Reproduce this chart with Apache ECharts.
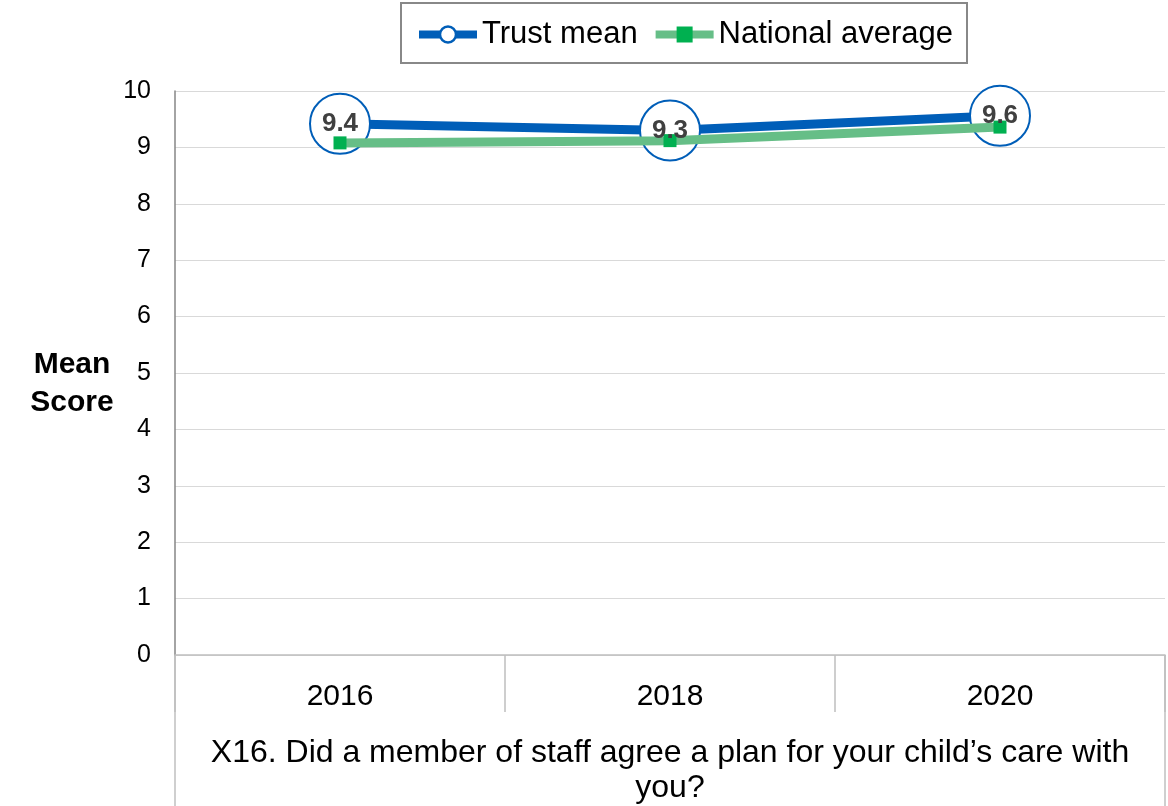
<!DOCTYPE html>
<html>
<head>
<meta charset="utf-8">
<script src="https://cdn.jsdelivr.net/npm/echarts@6/dist/echarts.min.js"></script>
<style>
    html, body { margin: 0; padding: 0; background: #fff; }
    #chart { width: 1168px; height: 806px; }
</style>
</head>
<body>
<div id="chart"></div>
<script>
// 数据
var years = ['2016', '2018', '2020'];
var trustMean = [9.42, 9.3, 9.56];
var nationalAvg = [9.08, 9.12, 9.36];
var yTicks = [0, 10, 1]; // min, max, interval
var questionText = 'X16. Did a member of staff agree a plan for your child\u2019s care with\nyou?';

(function () {
    // 1.初始化echarts实例对象
    var myChart = echarts.init(document.getElementById('chart'));

    var font = 'Arial, "Liberation Sans", sans-serif';
    var gridLeft = 175, gridRight = 3, gridBottom = 151;

    // 2.指定配置项与数据
    var option = {
        animation: false,
        textStyle: { fontFamily: font },
        legend: {
            left: 401,
            top: 3,
            data: [
                { name: 'Trust mean', itemStyle: { borderWidth: 2.5 } },
                'National average'
            ],
            itemWidth: 58,
            itemHeight: 20,
            itemGap: 14,
            padding: [16, 14, 13, 14],
            borderColor: '#888',
            borderWidth: 2,
            lineStyle: { width: 8 },
            textStyle: { fontSize: 31, color: '#000', fontFamily: font }
        },
        grid: {
            top: 91,
            left: gridLeft,
            right: gridRight,
            bottom: gridBottom,
            outerBoundsMode: 'none'
        },
        xAxis: {
            type: 'category',
            data: years,
            boundaryGap: true,
            axisLine: { lineStyle: { color: '#bfbfbf', width: 1.5 } },
            axisTick: {
                show: true,
                interval: 0,
                length: 57,
                lineStyle: { color: '#bfbfbf', width: 1.5 }
            },
            axisLabel: { fontSize: 30, color: '#000', margin: 27 },
            name: questionText,
            nameLocation: 'middle',
            nameGap: 81,
            nameTextStyle: { fontSize: 32, color: '#000', lineHeight: 35, align: 'center' }
        },
        yAxis: {
            type: 'value',
            min: yTicks[0],
            max: yTicks[1],
            interval: yTicks[2],
            axisLine: { show: true, lineStyle: { color: '#868686', width: 1.5 } },
            axisTick: { show: false },
            splitLine: { lineStyle: { color: '#d9d9d9', width: 1 } },
            axisLabel: { fontSize: 25, color: '#000', margin: 24 }
        },
        series: [{
            name: 'Trust mean',
            type: 'line',
            data: trustMean,
            z: 2,
            symbol: 'circle',
            symbolSize: 60,
            lineStyle: { color: '#005EB8', width: 9 },
            itemStyle: { color: '#fff', borderColor: '#005EB8', borderWidth: 2 }
        }, {
            name: 'National average',
            type: 'line',
            data: nationalAvg,
            z: 3,
            symbol: 'rect',
            symbolSize: 13,
            lineStyle: { color: '#66BE87', width: 9 },
            itemStyle: { color: '#00B050' }
        }, {
            // 只显示数据标签
            name: 'Trust mean label',
            type: 'line',
            data: trustMean,
            z: 4,
            silent: true,
            symbol: 'circle',
            symbolSize: 1,
            itemStyle: { color: 'rgba(0,0,0,0)' },
            lineStyle: { opacity: 0 },
            label: {
                show: true,
                position: 'inside',
                fontSize: 26,
                fontWeight: 'bold',
                color: '#404040',
                formatter: function (p) { return p.value.toFixed(1); }
            }
        }],
        graphic: [{
            // y轴标题
            type: 'text',
            x: 72,
            y: 384,
            style: {
                text: 'Mean\nScore',
                font: 'bold 30px ' + font,
                lineHeight: 38,
                fill: '#000',
                textAlign: 'center',
                textVerticalAlign: 'middle'
            }
        }, {
            // 类别区域左右边框
            type: 'line',
            shape: { x1: gridLeft, y1: 806 - gridBottom, x2: gridLeft, y2: 806 },
            style: { stroke: '#bfbfbf', lineWidth: 1.5 }
        }, {
            type: 'line',
            shape: { x1: 1168 - gridRight, y1: 806 - gridBottom, x2: 1168 - gridRight, y2: 806 },
            style: { stroke: '#bfbfbf', lineWidth: 1.5 }
        }]
    };

    // 3.将配置项设置给echarts实例对象
    myChart.setOption(option);
})();
</script>
</body>
</html>
